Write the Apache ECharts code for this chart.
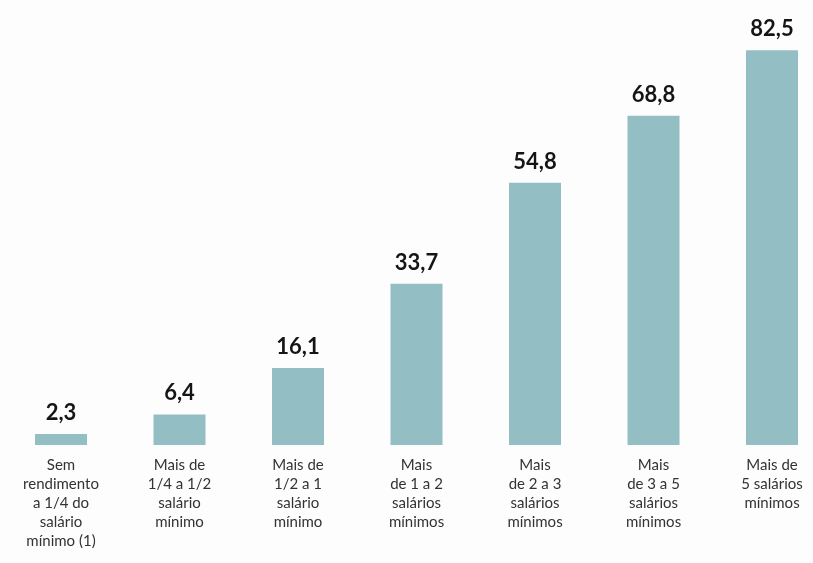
<!DOCTYPE html>
<html>
<head>
<meta charset="utf-8">
<script src="https://cdn.jsdelivr.net/npm/echarts@6/dist/echarts.min.js"></script>
<style>
html,body{margin:0;padding:0;background:#fdfdfd;}
#chart{width:813px;height:563px;}
</style>
</head>
<body>
<div id="chart"></div>
<script>
var categories = [
  "Sem\nrendimento\na 1/4 do\nsalário\nmínimo (1)",
  "Mais de\n1/4 a 1/2\nsalário\nmínimo",
  "Mais de\n1/2 a 1\nsalário\nmínimo",
  "Mais\nde 1 a 2\nsalários\nmínimos",
  "Mais\nde 2 a 3\nsalários\nmínimos",
  "Mais\nde 3 a 5\nsalários\nmínimos",
  "Mais de\n5 salários\nmínimos"
];
var values = [2.3, 6.4, 16.1, 33.7, 54.8, 68.8, 82.5];

var chart = echarts.init(document.getElementById('chart'), null, {renderer: 'canvas'});
chart.setOption({
  backgroundColor: '#fdfdfd',
  animation: false,
  grid: {left: 61, right: 41, top: 0, bottom: 118, containLabel: false},
  xAxis: {
    type: 'category',
    data: categories,
    boundaryGap: false,
    axisLine: {show: false},
    axisTick: {show: false},
    splitLine: {show: false},
    axisLabel: {
      interval: 0,
      margin: 11,
      color: '#333333',
      fontFamily: 'Lato',
      fontSize: 15,
      lineHeight: 19,
      align: 'center'
    }
  },
  yAxis: {
    type: 'value',
    min: 0,
    max: 93,
    show: false,
    splitLine: {show: false}
  },
  series: [{
    type: 'bar',
    data: values,
    barWidth: 52,
    clip: false,
    itemStyle: {color: '#93bec3'},
    label: {
      show: true,
      position: 'top',
      distance: 10,
      color: '#151515',
      fontFamily: 'Lato',
      fontWeight: 'bold',
      fontSize: 22,
      formatter: function (p) { return String(p.value).replace('.', ','); }
    }
  }]
});
</script>
</body>
</html>
